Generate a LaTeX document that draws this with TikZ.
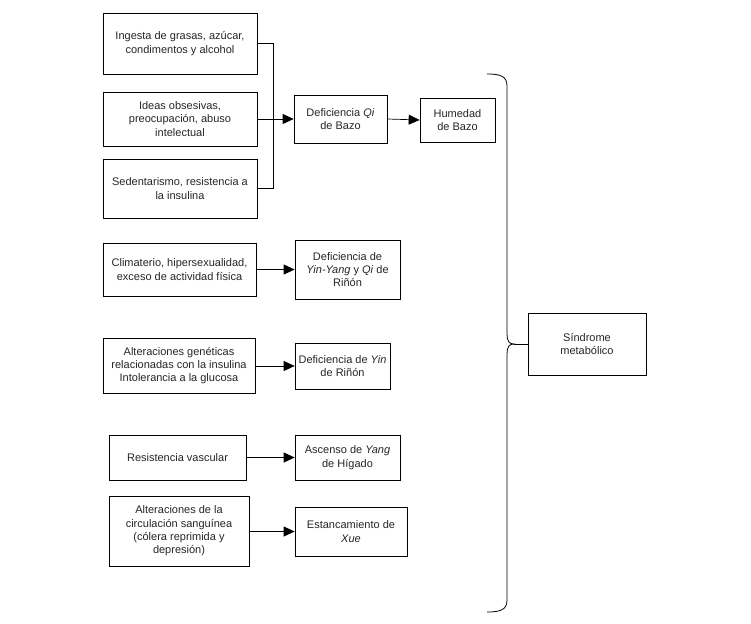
\documentclass[tikz,border=0pt]{standalone}
\usepackage{fontspec}
\setmainfont{Liberation Sans}
\usetikzlibrary{arrows.meta}
\begin{document}
\begin{tikzpicture}[x=1pt,y=-1pt,
  box/.style={draw=black, line width=0.7pt, align=center, inner sep=2pt,
    font=\fontsize{11}{13.3}\selectfont, text=black!85},
  conn/.style={line width=0.7pt, draw=black},
  arr/.style={conn, -{Triangle[length=11pt,width=10pt]}}]
\useasboundingbox (0,0) rectangle (751,623);
\fill[white] (0,0) rectangle (751,623);

\node[box, minimum width=154pt, minimum height=61pt] (a1) at (180,43.5) {Ingesta de grasas, azúcar,\\condimentos y alcohol};
\node[box, minimum width=154pt, minimum height=54pt] (a2) at (180,119) {Ideas obsesivas,\\preocupación, abuso\\intelectual};
\node[box, minimum width=154pt, minimum height=59pt] (a3) at (180,188.5) {Sedentarismo, resistencia a\\la insulina};
\node[box, minimum width=93pt, minimum height=48pt] (b1) at (340.5,119) {Deficiencia \textit{Qi}\\de Bazo};
\node[box, minimum width=75pt, minimum height=44pt] (b2) at (457.5,120) {Humedad\\de Bazo};

\node[box, minimum width=153pt, minimum height=53pt] (c1) at (179.5,269.5) {Climaterio, hipersexualidad,\\exceso de actividad física};
\node[box, minimum width=105pt, minimum height=59pt] (c2) at (347.5,269.5) {Deficiencia de\\\textit{Yin-Yang} y \textit{Qi} de\\Riñón};

\node[box, minimum width=152pt, minimum height=55pt] (d1) at (179,365.5) {Alteraciones genéticas\\relacionadas con la insulina\\Intolerancia a la glucosa};
\node[box, minimum width=95pt, minimum height=46pt] (d2) at (342.5,366) {Deficiencia de \textit{Yin}\\de Riñón};

\node[box, minimum width=137pt, minimum height=45pt] (e1) at (177.5,457.5) {Resistencia vascular};
\node[box, minimum width=105pt, minimum height=45pt] (e2) at (347.5,457.5) {Ascenso de \textit{Yang}\\de Hígado};

\node[box, minimum width=140pt, minimum height=70pt] (f1) at (179,531) {Alteraciones de la\\circulación sanguínea\\(cólera reprimida y\\depresión)};
\node[box, minimum width=112pt, minimum height=49pt] (f2) at (351,531.5) {Estancamiento de\\\textit{Xue}};

\node[box, minimum width=118pt, minimum height=62pt] (s) at (587,344) {Síndrome\\metabólico};

% merge of the three first causes
\coordinate (j1) at (273,43.5);
\coordinate (j3) at (273,188.5);
\draw[conn] (a1.east) -- (j1) -- (j3) -- (a3.east);
\draw[arr] (a2.east) -- (b1.west);
\draw[arr] (b1.east) -- (b2.west);
\draw[arr] (c1.east) -- (c2.west);
\draw[arr] (d1.east |- d2.west) -- (d2.west);
\draw[arr] (e1.east) -- (e2.west);
\draw[arr] (f1.east |- f2.west) -- (f2.west);

% brace
\coordinate (tip) at (514,344);
\draw[conn, line width=0.8pt] (487,74) .. controls (500,74) and (507,76) .. (507,86)
  -- (507,334) .. controls (507,341) and (509,344) .. (tip)
  .. controls (509,344) and (507,347) .. (507,354)
  -- (507,600) .. controls (507,610) and (500,612) .. (487,612);
\draw[conn] (tip) -- (s.west);
\end{tikzpicture}
\end{document}
